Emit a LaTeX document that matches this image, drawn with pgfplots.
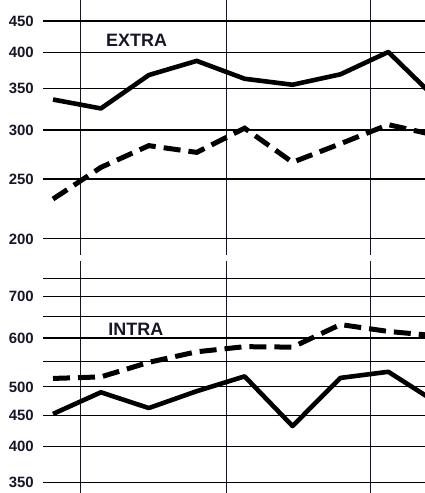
\documentclass[border=0pt]{standalone}
\usepackage{pgfplots}
\pgfplotsset{compat=1.18}
\usepackage{fontspec}
\setmainfont{Liberation Sans}
\definecolor{ink}{RGB}{22,22,40}

% x index i sits at pixel 53 + 47.9 i; axis runs from pixel 43 to 425
\pgfplotstableread{
i extrasolid extradash intrasolid intradash
0 336 232 452 516
1 325 261 490 519
2 368 283 462 548
3 388 276 492 570
4 363 302 520 581
5 355 266 432 580
6 369 285 517 631
7 401 306 529 615
8 337 294 472 605
}\chartdata

\begin{document}
\begin{tikzpicture}
\path[use as bounding box] (0,0) rectangle (425bp,493bp);

% EXTRA panel: pixel rows 0 to 255
\begin{axis}[ymode=log, scale only axis, width=382bp, height=255bp,
  at={(43bp,238bp)}, anchor=south west,
  xmin=-0.209, xmax=7.766, ymin=188.4, ymax=486.6,
  axis line style={draw=none}, major tick length=0pt,
  xtick={0.564,3.612,6.618}, xticklabels={},
  xmajorgrids, ymajorgrids,
  x grid style={ink, line width=1bp},
  y grid style={black, line width=1.1bp},
  yticklabel style={anchor=east, inner sep=0pt, xshift=-9bp,
    font=\fontsize{15}{15}\selectfont\bfseries, text=ink},
  ytick={200,250,300,350,400,450},
  yticklabels={200,250,300,350,400,450}]
\addplot[black, line width=4.6bp, line join=round, mark=none]
  table[x=i, y=extrasolid] {\chartdata};
\addplot[black, line width=5bp, dash pattern=on 17bp off 8bp, mark=none]
  table[x=i, y=extradash] {\chartdata};
\node[font=\fontsize{18}{18}\selectfont\bfseries, text=ink] at (rel axis cs:0.245,0.84) {EXTRA};
\end{axis}

% INTRA panel: pixel rows 261 to 493
\begin{axis}[ymode=log, scale only axis, width=382bp, height=232bp,
  at={(43bp,0bp)}, anchor=south west,
  xmin=-0.209, xmax=7.766, ymin=336.5, ymax=800,
  axis line style={draw=none}, major tick length=0pt,
  xtick={0.564,3.612,6.618}, xticklabels={},
  xmajorgrids, ymajorgrids,
  x grid style={ink, line width=1bp},
  y grid style={black, line width=1.1bp},
  yticklabel style={anchor=east, inner sep=0pt, xshift=-9bp,
    font=\fontsize{15}{15}\selectfont\bfseries, text=ink},
  ytick={350,400,450,500,550,600,650,700,750},
  yticklabels={350,400,450,500,,600,,700,}]
\addplot[black, line width=4.6bp, line join=round, mark=none]
  table[x=i, y=intrasolid] {\chartdata};
\addplot[black, line width=5bp, dash pattern=on 17bp off 8bp, mark=none]
  table[x=i, y=intradash] {\chartdata};
\node[font=\fontsize{18}{18}\selectfont\bfseries, text=ink] at (rel axis cs:0.243,0.705) {INTRA};
\end{axis}
\end{tikzpicture}
\end{document}
